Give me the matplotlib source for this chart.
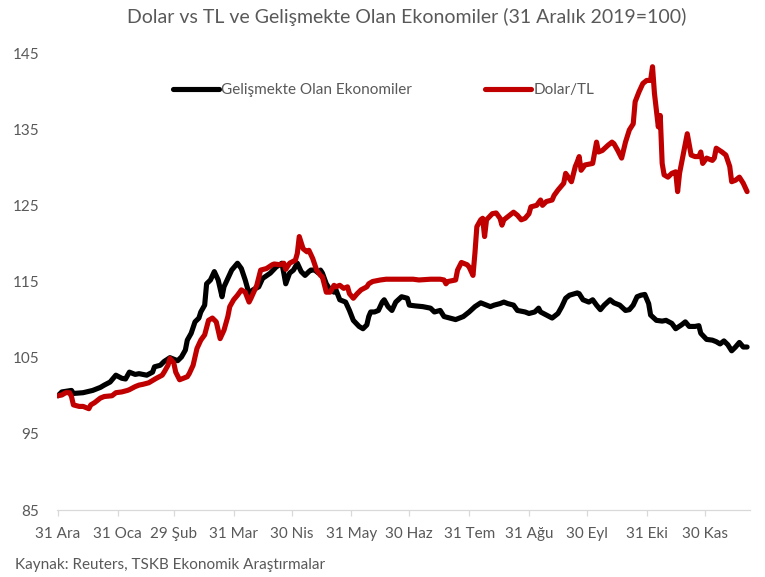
import numpy as np
import pandas as pd
import matplotlib
matplotlib.use("Agg")
from matplotlib import pyplot as plt

plt.rcParams['font.family'] = ['Lato', 'DejaVu Sans']

# days since 31 Dec 2019 and index values (31 Aralik 2019 = 100)
em_days = [0, 2, 7, 8, 13, 18, 22, 24, 27, 30, 33, 35, 37, 40, 42, 46, 49, 50, 53, 55,
           58, 61, 62, 64, 66, 67, 69, 71, 73, 74, 76, 77, 79, 81, 83, 85, 86, 90, 93, 95,
           97, 99, 101, 104, 106, 110, 113, 116, 117, 118, 120, 122, 124, 126, 128, 130, 131, 133, 135, 136,
           137, 139, 141, 143, 144, 146, 149, 151, 153, 156, 158, 160, 161, 162, 164, 166, 168, 169, 171, 173,
           175, 178, 181, 182, 185, 189, 193, 195, 198, 200, 203, 206, 210, 213, 216, 219, 221, 224, 226, 229,
           231, 233, 236, 238, 242, 244, 247, 249, 250, 253, 256, 259, 261, 263, 265, 269, 270, 272, 275, 277,
           279, 281, 283, 286, 288, 291, 294, 296, 298, 300, 302, 304, 306, 307, 310, 313, 315, 318, 320, 323,
           325, 327, 330, 332, 333, 336, 339, 341, 343, 345, 347, 349, 351, 353, 355, 357]
em_vals = [100.0, 100.5, 100.7, 100.3, 100.4, 100.7, 101.1, 101.4, 101.8, 102.7, 102.3, 102.2, 103.1, 102.8, 102.9, 102.7, 103.1, 103.8, 104.0, 104.5,
           105.0, 104.7, 104.6, 105.1, 106.0, 107.3, 108.2, 109.7, 110.2, 111.0, 111.9, 114.7, 115.2, 116.3, 115.2, 113.0, 114.3, 116.5, 117.4, 116.7,
           115.2, 113.4, 113.9, 114.3, 115.4, 116.1, 116.9, 117.4, 116.1, 114.7, 116.1, 116.5, 117.4, 116.3, 115.8, 116.3, 116.5, 116.5, 116.1, 116.5,
           116.1, 114.7, 113.9, 113.6, 113.9, 112.6, 112.3, 111.2, 109.9, 109.1, 108.8, 109.3, 110.4, 111.0, 111.0, 111.2, 112.3, 112.6, 111.7, 111.2,
           112.3, 113.0, 112.8, 111.9, 111.8, 111.7, 111.5, 111.0, 111.2, 110.4, 110.2, 110.0, 110.4, 111.0, 111.7, 112.2, 112.0, 111.7, 111.9, 112.1,
           112.3, 112.1, 111.9, 111.2, 111.0, 110.8, 111.0, 111.5, 111.0, 110.6, 110.2, 110.8, 111.7, 112.8, 113.2, 113.5, 113.4, 112.6, 112.3, 112.6,
           111.9, 111.3, 111.9, 112.6, 112.2, 111.9, 111.2, 111.3, 111.9, 113.0, 113.2, 113.3, 112.1, 110.6, 109.9, 109.8, 109.9, 109.5, 108.8, 109.3,
           109.7, 109.1, 109.1, 109.2, 108.2, 107.4, 107.3, 107.1, 106.8, 107.2, 106.7, 105.9, 106.4, 107.0, 106.4, 106.4]

tl_days = [0, 2, 4, 6, 7, 8, 11, 13, 16, 17, 19, 22, 24, 28, 30, 33, 36, 37, 40, 42,
           44, 47, 49, 51, 54, 55, 57, 58, 60, 61, 63, 65, 67, 68, 70, 72, 74, 76, 78, 80,
           82, 84, 86, 88, 89, 91, 93, 95, 97, 99, 100, 103, 105, 108, 111, 112, 115, 117, 118, 120,
           123, 124, 125, 127, 129, 130, 132, 134, 136, 137, 139, 141, 143, 144, 146, 148, 150, 151, 153, 155,
           157, 160, 161, 163, 167, 170, 174, 177, 181, 184, 187, 193, 198, 200, 201, 202, 206, 207, 209, 212,
           213, 215, 216, 217, 219, 220, 221, 222, 225, 227, 229, 230, 231, 234, 236, 238, 240, 242, 244, 245,
           248, 250, 251, 253, 256, 257, 259, 262, 263, 266, 268, 269, 270, 271, 273, 275, 277, 279, 280, 282,
           285, 287, 288, 290, 292, 294, 296, 298, 299, 301, 303, 305, 307, 308, 309, 311, 312, 313, 314, 316,
           318, 320, 321, 322, 326, 328, 330, 332, 333, 334, 336, 339, 340, 341, 344, 346, 348, 349, 351, 353,
           355, 357]
tl_vals = [100.0, 100.1, 100.4, 100.4, 99.9, 98.8, 98.6, 98.6, 98.3, 98.8, 99.1, 99.7, 99.9, 100.0, 100.4, 100.5, 100.7, 100.8, 101.2, 101.4,
           101.5, 101.7, 102.0, 102.3, 102.7, 103.1, 104.0, 104.9, 104.3, 103.1, 102.1, 102.3, 102.5, 102.9, 104.0, 106.2, 107.3, 108.0, 109.9, 110.2,
           109.7, 107.5, 108.6, 110.4, 111.7, 112.6, 113.2, 113.9, 113.6, 112.3, 112.8, 114.5, 116.5, 116.7, 117.2, 117.3, 117.2, 117.4, 116.6, 117.4,
           117.8, 118.7, 120.9, 119.3, 118.9, 119.1, 118.0, 116.5, 115.8, 115.6, 113.6, 113.6, 114.5, 114.3, 114.5, 114.1, 114.3, 113.4, 112.8, 113.4,
           113.9, 114.3, 114.7, 115.0, 115.2, 115.3, 115.3, 115.3, 115.3, 115.3, 115.2, 115.3, 115.3, 115.2, 114.7, 115.0, 115.2, 116.5, 117.5, 117.2,
           116.9, 115.8, 118.7, 122.2, 123.1, 123.3, 120.9, 123.1, 123.9, 124.0, 123.3, 122.4, 123.1, 123.7, 124.1, 123.7, 123.1, 123.3, 123.9, 124.8,
           125.0, 125.7, 125.0, 125.5, 125.7, 126.3, 127.0, 127.9, 129.2, 128.1, 130.1, 130.7, 131.4, 129.6, 130.3, 130.4, 130.5, 133.3, 132.0, 132.2,
           132.9, 133.3, 133.1, 132.2, 131.2, 133.3, 134.9, 135.7, 138.6, 139.9, 141.0, 141.4, 141.4, 143.2, 139.7, 135.3, 136.8, 130.5, 129.0, 128.7,
           129.2, 129.4, 126.8, 129.2, 134.4, 131.6, 131.4, 131.4, 132.0, 130.5, 131.2, 130.9, 131.2, 132.5, 132.0, 131.6, 130.1, 128.1, 128.3, 128.7,
           127.9, 126.8]

tick_days = [0, 31, 60, 91, 121, 152, 182, 213, 244, 274, 305, 335]
tick_labels = ['31 Ara', '31 Oca', '29 Şub', '31 Mar', '30 Nis', '31 May',
               '30 Haz', '31 Tem', '31 Ağu', '30 Eyl', '31 Eki', '30 Kas']

start = pd.Timestamp('2019-12-31')
em_dates = start + pd.to_timedelta(em_days, unit='D')
tl_dates = start + pd.to_timedelta(tl_days, unit='D')
tick_dates = start + pd.to_timedelta(tick_days, unit='D')

gray = '#595959'

fig = plt.figure(figsize=(7.65, 5.77), dpi=100)
ax = fig.add_axes([57 / 765, 1 - 510 / 577, 693 / 765, 457 / 577])

ax.plot(em_dates, em_vals, color='black', lw=3.7, solid_capstyle='round',
        solid_joinstyle='round', label='Gelişmekte Olan Ekonomiler')
ax.plot(tl_dates, tl_vals, color='#C00000', lw=3.7, solid_capstyle='round',
        solid_joinstyle='round', label='Dolar/TL')

ax.set_ylim(85, 145)
ax.set_yticks(np.arange(85, 146, 10))
ax.set_xlim(start - pd.Timedelta(days=0.5), start + pd.Timedelta(days=358.5))
ax.set_xticks(tick_dates)
ax.set_xticklabels(tick_labels)

for s in ['top', 'right', 'left']:
    ax.spines[s].set_visible(False)
ax.spines['bottom'].set_color('#D9D9D9')
ax.spines['bottom'].set_linewidth(0.9)
ax.tick_params(axis='y', length=0, pad=13, labelsize=11, labelcolor=gray)
ax.tick_params(axis='x', length=4, width=0.9, color='#D9D9D9', pad=8,
               labelsize=11, labelcolor=gray)

ax.legend(loc='center', bbox_to_anchor=(0.471, 0.919), ncol=2, frameon=False,
          fontsize=11, labelcolor=gray, handlelength=3.0, handletextpad=0.15,
          columnspacing=4.8)

fig.text(407 / 765, 1 - 17 / 577, 'Dolar vs TL ve Gelişmekte Olan Ekonomiler (31 Aralık 2019=100)',
         ha='center', va='center', fontsize=14, color=gray)
fig.text(15 / 765, 1 - 565 / 577, 'Kaynak: Reuters, TSKB Ekonomik Araştırmalar',
         ha='left', va='center', fontsize=11, color=gray)

fig.savefig('out.png', dpi=100)
